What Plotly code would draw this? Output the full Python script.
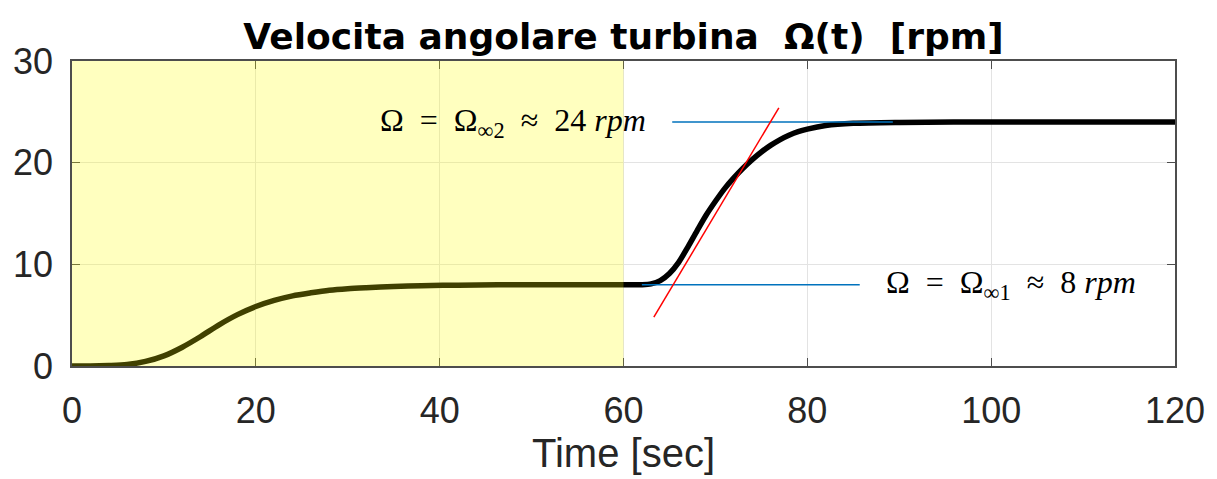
import plotly.graph_objects as go

# Data
time_s = [0, 2, 4, 6, 8, 10, 12, 14, 16, 18, 20, 22, 24, 26, 28, 30, 32, 35, 38, 42, 50, 60,
          62, 63, 64, 65, 66, 67, 68, 69, 70, 71, 72, 73, 74, 75, 76, 77, 78, 79, 80, 82, 85, 90, 100, 120]
omega_rpm = [0, 0, 0.05, 0.15, 0.45, 1.0, 1.85, 2.9, 4.05, 5.05, 5.85, 6.45, 6.9, 7.2, 7.45, 7.6, 7.7, 7.82, 7.9, 7.95, 8, 8,
             8.0, 8.08, 8.4, 9.1, 10.2, 11.7, 13.3, 14.85, 16.2, 17.45, 18.5, 19.45, 20.3, 21.05, 21.7, 22.25, 22.7, 23.05, 23.3, 23.65, 23.87, 23.96, 24, 24]

tangent_t = [63.3, 76.9]
tangent_omega = [4.8, 25.4]

level1_t = [62, 85.7]
level1_omega = [8, 8]
level2_t = [65.3, 89.3]
level2_omega = [24, 24]

shade_t = [0, 60]

x_ticks = [0, 20, 40, 60, 80, 100, 120]
y_ticks = [0, 10, 20, 30]

fig = go.Figure()
fig.add_trace(go.Scatter(x=time_s, y=omega_rpm, mode="lines",
                         line=dict(color="black", width=5.5, shape="spline", smoothing=0.8),
                         showlegend=False, hoverinfo="skip"))
fig.add_trace(go.Scatter(x=level1_t, y=level1_omega, mode="lines",
                         line=dict(color="#0072BD", width=1.5), showlegend=False))
fig.add_trace(go.Scatter(x=level2_t, y=level2_omega, mode="lines",
                         line=dict(color="#0072BD", width=1.5), showlegend=False))
fig.add_trace(go.Scatter(x=tangent_t, y=tangent_omega, mode="lines",
                         line=dict(color="red", width=1.5), showlegend=False))

fig.add_shape(type="rect", xref="x", yref="y", x0=shade_t[0], x1=shade_t[1], y0=0, y1=30,
              fillcolor="yellow", opacity=0.25, line_width=0, layer="above")

math_font = dict(family="Liberation Serif, DejaVu Serif, serif", size=32, color="black")
fig.add_annotation(x=62.7, y=24, xref="x", yref="y", showarrow=False, xanchor="right",
                   text="Ω  =  Ω<sub>∞2</sub>  ≈  24 <i>rpm</i>", font=math_font)
fig.add_annotation(x=88.3, y=8, xref="x", yref="y", showarrow=False, xanchor="left",
                   text="Ω  =  Ω<sub>∞1</sub>  ≈  8 <i>rpm</i>", font=math_font)

tick_font = dict(family="Liberation Sans, Arial, sans-serif", size=36, color="#262626")
axis_common = dict(showgrid=True, gridcolor="#E3E3E3", gridwidth=1,
                   showline=True, linecolor="#4D4D4D", linewidth=1.5, mirror="ticks",
                   ticks="inside", ticklen=8, tickcolor="#4D4D4D",
                   zeroline=False, tickfont=tick_font)

fig.update_xaxes(range=[0, 120], tickvals=x_ticks, ticklabelstandoff=12, **axis_common,
                 title=dict(text="Time [sec]", standoff=6,
                            font=dict(family="Liberation Sans, Arial, sans-serif", size=40, color="#262626")))
fig.update_yaxes(range=[0, 30], tickvals=y_ticks, ticklabelstandoff=10, **axis_common)

fig.update_layout(
    width=1217, height=479,
    margin=dict(l=72, r=39, t=61, b=113),
    paper_bgcolor="white", plot_bgcolor="white",
    title=dict(text="<b>Velocita angolare turbina  Ω(t)  [rpm]</b>", xref="paper", x=0.5, xanchor="center",
               y=0.925, yanchor="middle",
               font=dict(family="DejaVu Sans, Liberation Sans, sans-serif", size=36, color="black")),
)

fig.write_html("out.html")
